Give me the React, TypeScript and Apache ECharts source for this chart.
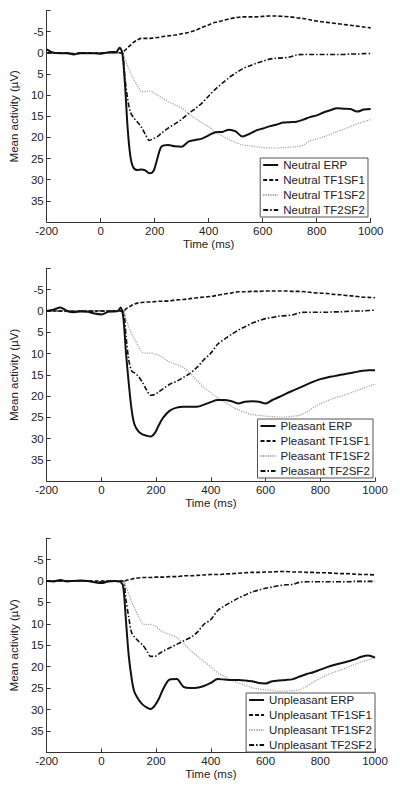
import React, { useEffect, useRef } from "react";
import * as echarts from "echarts";

const times = [-200,-175,-150,-125,-100,-75,-50,-25,0,25,50,60,70,80,90,100,110,120,135,150,165,180,195,210,225,250,275,300,325,350,375,400,425,450,475,500,525,550,575,600,625,650,675,700,725,750,775,800,825,850,875,900,925,950,975,1000];

const xTicks = { min: -200, max: 1000, interval: 200 };
const yTicks = { min: -10, max: 40, interval: 5 };

// Neutral
const neutralERP = [-0.8,0,0.1,0.1,0.4,0.1,0.1,0.1,0.2,-0.1,-0.2, -0.3,-1.2,0,7.5,18,24.5,27, 27.7,27.6,27.8,28.5,28,25,22.2, 21.8,22.1,22.2,21,20.6,20.3,19.5,18.8,18.7,18.2,18.6,19.8,19.2,18.4,17.9,17.4,17.0,16.5,16.4,16.3,15.8,15.2,14.8,14.1,13.6,13.1,13.2,13.3,13.9,13.4,13.3];
const neutralTF1SF1 = [0,0,0.1,0,0.2,0,0,0.1,0,0,0, 0,0,0,-0.6,-1.2,-1.8,-2.4, -3.0,-3.4,-3.4,-3.4,-3.5,-3.6,-3.8, -4.0,-4.2,-4.5,-4.8,-5.3,-6.0,-6.6,-7.2,-7.6,-8.0,-8.3,-8.5,-8.5,-8.5,-8.6,-8.7,-8.7,-8.6,-8.5,-8.3,-8.1,-7.8,-7.5,-7.3,-7.1,-6.9,-6.7,-6.5,-6.3,-6.1,-5.9];
const neutralTF1SF2 = [0.2,0,0,0.1,0.2,0,0.1,0,0.1,0,0, 0,0,0,1.5,3.2,4.6,6.0, 7.6,9.1,9.2,9.0,9.4,10.0,10.6, 11.5,12.3,13.1,14.3,15.5,16.5,17.5,18.7,19.6,20.5,21.2,21.8,22.0,22.2,22.4,22.5,22.5,22.4,22.3,22.2,21.8,20.8,20.4,19.9,19.3,18.6,18.1,17.4,16.8,16.3,15.8];
const neutralTF2SF2 = [0,0.1,0,0,0.3,0,0,0.1,0.1,0,0, 0,0,0,6,11,14,15.2, 16.3,17.5,19.2,20.7,20.3,19.8,19.0, 17.8,16.8,15.7,14.4,13.2,11.9,10.2,8.6,7.2,5.9,4.8,3.8,3.1,2.5,2.0,1.5,1.3,1.2,1.0,0.5,0.4,0.4,0.4,0.4,0.4,0.4,0.4,0.3,0.3,0.2,0.15];

// Pleasant
const pleasantERP = [0.0,-0.3,-0.8,0.0,0.3,0.1,0.2,0.6,0.8,0.2,0.1, 0,-0.8,1.5,10,17,23,26.5, 28.3,29.0,29.3,29.5,28.7,26.8,25.1, 23.4,22.7,22.5,22.5,22.5,22.0,21.4,20.9,20.9,21.2,21.7,21.3,21.2,21.3,21.7,20.9,20.2,19.4,18.7,18.0,17.3,16.6,16.0,15.6,15.3,15.0,14.7,14.4,14.1,13.9,13.9];
const pleasantTF1SF1 = [0,0,0,0,0.1,0,0,0,0,0,0, 0,0,0,-0.5,-0.9,-1.3,-1.6, -1.9,-2.0,-2.1,-2.1,-2.2,-2.3,-2.3, -2.4,-2.6,-2.7,-2.9,-3.1,-3.3,-3.4,-3.7,-4.0,-4.2,-4.5,-4.5,-4.6,-4.6,-4.7,-4.7,-4.7,-4.7,-4.6,-4.6,-4.5,-4.3,-4.2,-4.1,-3.9,-3.8,-3.6,-3.5,-3.3,-3.2,-3.1];
const pleasantTF1SF2 = [0.1,0,-0.2,0,0,0.1,0,0,0.2,0,0, 0,0,0,1.8,3.8,5.3,6.5, 8.3,9.7,9.9,9.9,10.1,10.4,11.0, 12.0,12.6,13.3,14.6,16.4,18.0,19.2,20.4,21.4,22.4,23.2,23.8,24.3,24.5,24.7,24.8,24.9,24.9,24.7,24.5,23.7,22.7,21.8,21.1,20.5,20.0,19.5,18.9,18.3,17.7,17.2];
const pleasantTF2SF2 = [0,0,0,0.1,0,0,0.1,0,0,0,0, 0,0,0,6,11.5,14.0,14.5, 15.3,16.8,18.5,19.8,19.6,19.0,18.3, 17.2,16.5,15.6,14.6,13.2,11.4,9.9,7.8,6.6,5.5,4.5,3.7,2.9,2.3,1.8,1.5,1.2,1.1,0.9,0.4,0.3,0.3,0.3,0.3,0.2,0.2,0.1,0.0,0.0,-0.1,-0.2];

// Unpleasant
const unpleasantERP = [0.0,0.1,-0.2,0.1,0.0,-0.1,0.0,0.3,0.5,0.1,0.0, 0.1,0.2,1.5,9.5,17.5,22.5,25.8, 27.6,28.8,29.5,29.9,29.1,27.5,25.3, 23.0,22.9,24.7,25.0,24.9,24.5,23.8,22.9,23.0,23.1,23.1,23.2,23.4,23.8,23.9,23.4,23.2,23.1,22.9,22.3,21.7,21.3,20.7,20.1,19.6,19.2,18.8,18.3,17.7,17.4,17.9];
const unpleasantTF1SF1 = [0,0,0,0,0,0,0,0,0,0,0, 0,0,0,-0.1,-0.3,-0.4,-0.6, -0.7,-0.8,-0.8,-0.8,-0.9,-0.9,-0.9, -1.0,-1.0,-1.2,-1.2,-1.3,-1.4,-1.5,-1.5,-1.6,-1.7,-1.8,-1.9,-2.0,-2.0,-2.1,-2.1,-2.2,-2.2,-2.1,-2.1,-2.0,-2.0,-1.9,-1.9,-1.8,-1.7,-1.7,-1.6,-1.5,-1.5,-1.4];
const unpleasantTF1SF2 = [0,0.1,0,0,0,0,0.1,0.2,0.3,0,0, 0,0,0,1.3,3.0,4.8,6.2, 8.2,9.9,10.2,10.1,10.5,11.2,11.9, 12.5,13.2,14.5,16.2,17.5,18.8,20.0,21.4,22.3,23.1,23.8,24.3,24.9,25.2,25.4,25.6,25.7,25.7,25.6,25.4,24.6,23.6,22.7,21.9,21.3,20.8,20.1,19.5,18.9,18.4,17.9];
const unpleasantTF2SF2 = [0,0,0,0,0,0,0,0.2,0.2,0,0, 0,0,0,4.5,8.5,12.0,13.0, 14.0,14.9,16.2,17.6,17.6,17.0,16.4, 15.6,14.8,14.0,13.2,12.0,10.1,9.0,6.9,5.8,4.9,4.0,3.3,2.6,2.1,1.7,1.4,1.1,0.9,0.8,0.3,0.2,0.2,0.2,0.2,0.2,0.2,0.2,0.1,0.1,0.1,0.1];

const conditions = ["Neutral", "Pleasant", "Unpleasant"];
const components = ["ERP", "TF1SF1", "TF1SF2", "TF2SF2"];
const panelData = [
  [neutralERP, neutralTF1SF1, neutralTF1SF2, neutralTF2SF2],
  [pleasantERP, pleasantTF1SF1, pleasantTF1SF2, pleasantTF2SF2],
  [unpleasantERP, unpleasantTF1SF1, unpleasantTF1SF2, unpleasantTF2SF2],
];

const FONT = "Liberation Sans";
const TEXT = "#222";
const AXIS = "#333";
const FS = 11.5;

const grids = [
  { left: 39.5, top: 10.5, width: 331.2, height: 211.5 },
  { left: 43.3, top: 268.4, width: 331.7, height: 212.9 },
  { left: 43.3, top: 538.1, width: 331.7, height: 214.3 },
];
const legendPos = [
  { right: 32, top: 158 },
  { right: 27, top: 419 },
  { right: 25, top: 693 },
];

const lineStyles = [
  { color: "#111", width: 2, type: "solid" },
  { color: "#111", width: 1.6, type: [4, 2] },
  { color: "#a0a0a0", width: 1.2, type: [1.2, 1.2] },
  { color: "#111", width: 1.6, type: [5, 2, 1.5, 2] },
];

export default function App() {
  const ref = useRef<HTMLDivElement>(null);
  useEffect(() => {
    if (!ref.current) return;
    const chart = echarts.init(ref.current, null, { renderer: "svg" });
    const xAxis: any[] = [];
    const yAxis: any[] = [];
    const series: any[] = [];
    const legend: any[] = [];
    grids.forEach((g, i) => {
      xAxis.push({
        type: "value",
        gridIndex: i,
        min: xTicks.min,
        max: xTicks.max,
        interval: xTicks.interval,
        name: "Time (ms)",
        nameLocation: "middle",
        nameGap: 14,
        nameTextStyle: { fontFamily: FONT, fontSize: FS, color: TEXT },
        axisLine: { onZero: false, lineStyle: { color: AXIS, width: 1 } },
        axisTick: { inside: true, length: 4, lineStyle: { color: AXIS } },
        axisLabel: { fontFamily: FONT, fontSize: FS, color: TEXT, margin: 3, formatter: (v: number) => String(v) },
        splitLine: { show: false },
      });
      yAxis.push({
        type: "value",
        gridIndex: i,
        inverse: true,
        min: yTicks.min,
        max: yTicks.max,
        interval: yTicks.interval,
        name: "Mean activity (µV)",
        nameLocation: "middle",
        nameGap: 16,
        nameTextStyle: { fontFamily: FONT, fontSize: FS, color: TEXT },
        axisLine: { show: true, onZero: false, lineStyle: { color: AXIS, width: 1 } },
        axisTick: { inside: true, length: 4, lineStyle: { color: AXIS } },
        axisLabel: {
          fontFamily: FONT,
          fontSize: FS,
          color: TEXT,
          margin: 3,
          formatter: (v: number) => (v === yTicks.min || v === yTicks.max ? "" : String(v)),
        },
        splitLine: { show: false },
      });
      const names: string[] = [];
      components.forEach((c, k) => {
        const name = `${conditions[i]} ${c}`;
        names.push(name);
        series.push({
          type: "line",
          name,
          xAxisIndex: i,
          yAxisIndex: i,
          showSymbol: false,
          symbol: "none",
          smooth: 0.3,
          data: times.map((t, j) => [t, panelData[i][k][j]]),
          lineStyle: lineStyles[k],
          itemStyle: { color: lineStyles[k].color },
          z: 10 - k,
        });
      });
      legend.push({
        data: names,
        orient: "vertical",
        ...legendPos[i],
        itemWidth: 15,
        itemHeight: 10,
        itemGap: 3,
        align: "left",
        padding: [1, 3, 1, 2],
        backgroundColor: "#fff",
        borderColor: "#555",
        borderWidth: 1,
        borderRadius: 0,
        selectedMode: false,
        itemStyle: { opacity: 0 },
        textStyle: { fontFamily: FONT, fontSize: FS, color: TEXT },
      });
    });
    chart.setOption({
      animation: false,
      backgroundColor: "#fff",
      grid: grids.map((g) => ({ ...g, containLabel: false })),
      xAxis,
      yAxis,
      series,
      legend,
    });
    return () => chart.dispose();
  }, []);
  return (
    <div
      ref={ref}
      style={{ position: "absolute", left: 0, top: 0, width: 400, height: 790, background: "#fff" }}
    />
  );
}
